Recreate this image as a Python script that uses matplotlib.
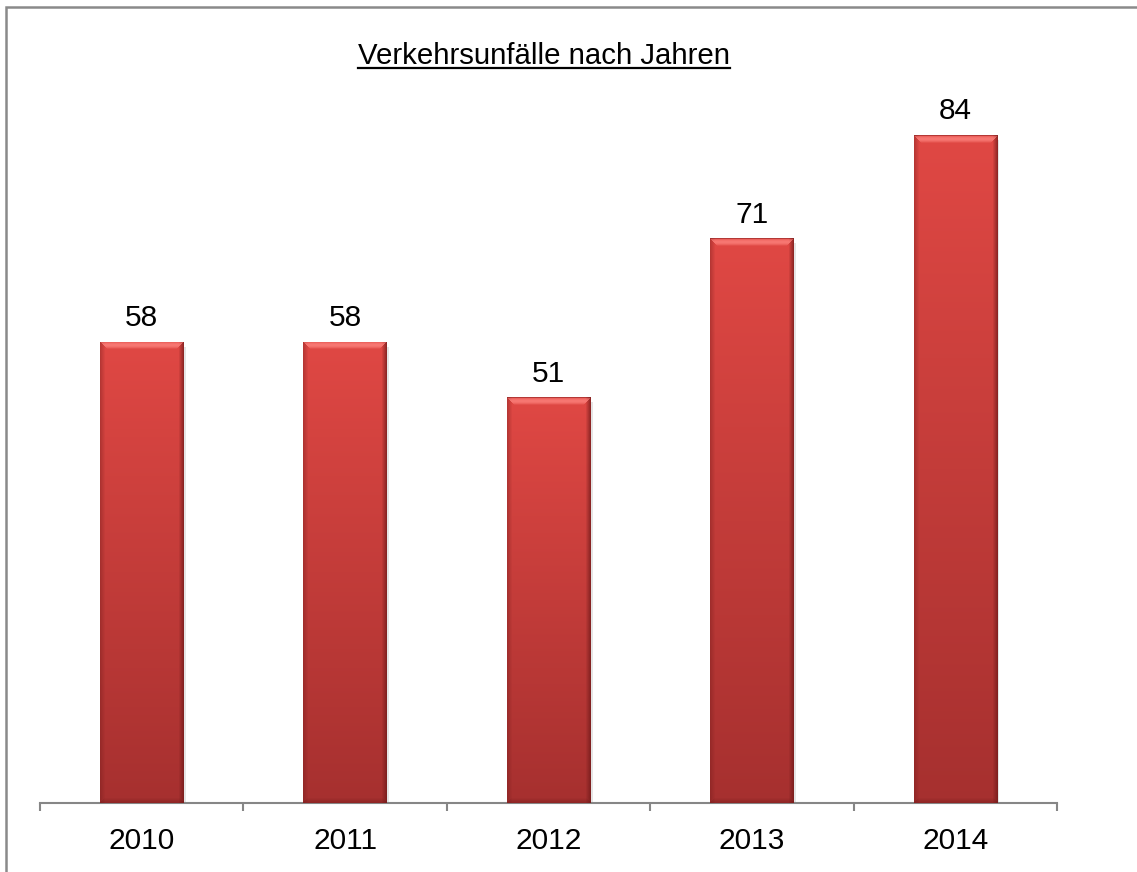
import numpy as np
import matplotlib.pyplot as plt
from matplotlib.patches import Rectangle
from matplotlib.lines import Line2D

years = ["2010", "2011", "2012", "2013", "2014"]
accidents = [58, 58, 51, 71, 84]
title = "Verkehrsunfälle nach Jahren"

plt.rcParams['font.family'] = ['Liberation Sans', 'DejaVu Sans']

W, H = 1137, 872
fig = plt.figure(figsize=(W / 100, H / 100), dpi=100)
fig.patch.set_facecolor('white')

# plot area in pixels (left, right, bottom, top)
ax = fig.add_axes([40 / W, 1 - 803 / H, (1057 - 40) / W, (803 - 87.3) / H])
x = np.arange(len(years))
bars = ax.bar(x, accidents, width=0.41, color='#d4403d', zorder=2)
ax.set_xlim(-0.5, len(years) - 0.5)
ax.set_ylim(0, 90)

# gradient + bevel fill for each bar
top_c = np.array([224, 72, 68]) / 255
bot_c = np.array([166, 48, 47]) / 255
light = np.array([255, 135, 130]) / 255
dark = np.array([110, 25, 25]) / 255
px_per_y = ax.bbox.height / 90
px_per_x = ax.bbox.width / len(years)
for b in bars:
    hp = int(round(b.get_height() * px_per_y))
    wp = int(round(b.get_width() * px_per_x))
    t = np.linspace(0, 1, hp)[:, None, None]
    img = top_c * (1 - t) + bot_c * t
    img = np.repeat(img, wp, axis=1)
    bev = 8
    # side edges
    for c in range(5):
        f = 0.7 * (1 - c / 5)
        img[:, wp - 1 - c] = img[:, wp - 1 - c] * (1 - f) + dark * f
        img[:, c] = img[:, c] * (1 - 0.5 * f) + dark * 0.5 * f
    # bottom bevel
    for r in range(5):
        f = 0.4 * (1 - r / 5)
        img[hp - 1 - r, r:wp - r] = img[hp - 1 - r, r:wp - r] * (1 - f) + dark * f
    # top bevel, lighter band with diagonal corners
    for r in range(bev):
        f = 0.75 * np.sin(np.pi * (r + 0.5) / bev) if r > 0 else 0.1
        img[r, r:wp - r] = img[r, r:wp - r] * (1 - f) + light * f
    img[0, :] = img[0, :] * 0.6 + dark * 0.4
    bx = b.get_x()
    im = ax.imshow(img, extent=[bx, bx + b.get_width(), 0, b.get_height()],
                   aspect='auto', zorder=3, interpolation='nearest')
    im.set_clip_path(b)
    # soft shadow
    ax.add_patch(Rectangle((bx + 0.012, -0.6), b.get_width(), b.get_height(),
                           color='#cccccc', alpha=0.5, zorder=1, lw=0))
ax.set_xlim(-0.5, len(years) - 0.5)
ax.set_ylim(0, 90)

for xi, v in zip(x, accidents):
    ax.annotate(str(v), (xi, v), xytext=(0, 7), textcoords='offset points',
                ha='center', va='bottom', fontsize=21.5, color='black')

for s in ['left', 'top', 'right']:
    ax.spines[s].set_visible(False)
ax.spines['bottom'].set_color('#868686')
ax.spines['bottom'].set_linewidth(1.5)
ax.set_yticks([])
ax.set_xticks(x)
ax.set_xticklabels(years, fontsize=21.5)
ax.tick_params(axis='x', which='major', length=0, pad=17)
ax.set_xticks(np.arange(-0.5, len(years)), minor=True)
ax.tick_params(axis='x', which='minor', length=6, width=1.5, color='#868686', direction='out')
ax.set_facecolor('none')

# title with underline
ttl = fig.text(544 / W, 1 - 64 / H, title, ha='center', va='baseline', fontsize=21.2)
fig.canvas.draw()
bb = ttl.get_window_extent()
uy = 1 - 68.5 / H
fig.add_artist(Line2D([bb.x0 / W, bb.x1 / W], [uy, uy], color='black', lw=1.6))

# outer border
fig.add_artist(Rectangle((6 / W, -0.1), 1.2, 1 - 7 / H + 0.1, transform=fig.transFigure,
                         fill=False, edgecolor='#8a8a8a', lw=1.8))

fig.savefig('out.png', dpi=100)
